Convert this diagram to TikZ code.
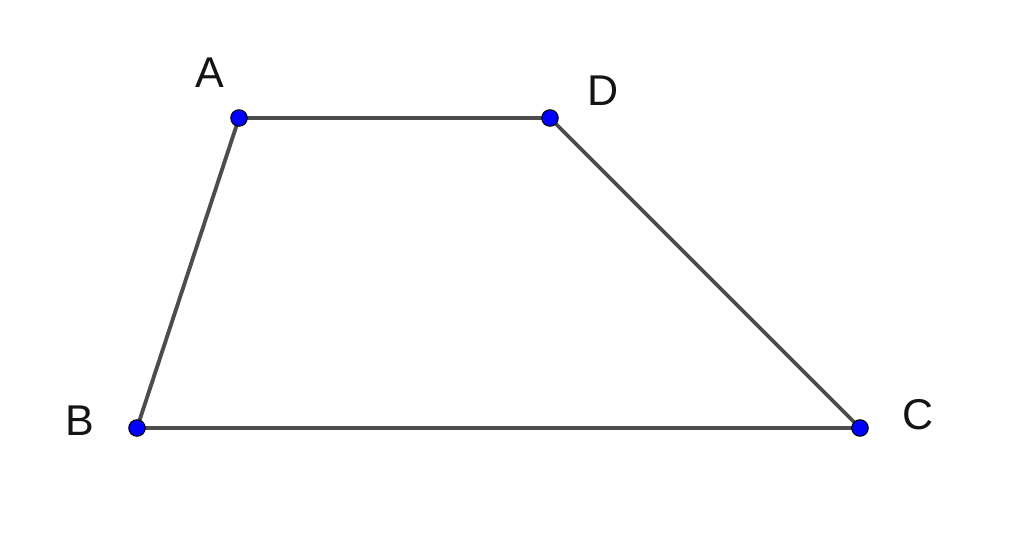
\documentclass[tikz,border=0pt]{standalone}
\usepackage{fontspec}
\setmainfont{Liberation Sans}
\begin{document}
\begin{tikzpicture}[x=0.02cm,y=-0.02cm,
  seg/.style={draw={rgb,255:red,77;green,77;blue,77},line width=2.2pt},
  pt/.style={circle,fill={rgb,255:red,0;green,0;blue,255},draw=black,line width=0.6pt,inner sep=0pt,minimum size=0.33cm},
  lbl/.style={anchor=base,inner sep=0pt,font=\fontsize{24.5pt}{28pt}\selectfont,text={rgb,255:red,20;green,20;blue,20}}]
\useasboundingbox (0,0) rectangle (1024,542);
\coordinate (A) at (239,118);
\coordinate (D) at (550,118);
\coordinate (B) at (137,428);
\coordinate (C) at (860,428);
\draw[seg] (A) -- (D) -- (C) -- (B) -- cycle;
\node[pt] (pA) at (A) {};
\node[pt] (pD) at (D) {};
\node[pt] (pB) at (B) {};
\node[pt] (pC) at (C) {};
\node[lbl] (lA) at (209.5,87) {A};
\node[lbl] (lD) at (603.5,105) {D};
\node[lbl] (lB) at (80,435) {B};
\node[lbl] (lC) at (918.5,429) {C};
\end{tikzpicture}
\end{document}
